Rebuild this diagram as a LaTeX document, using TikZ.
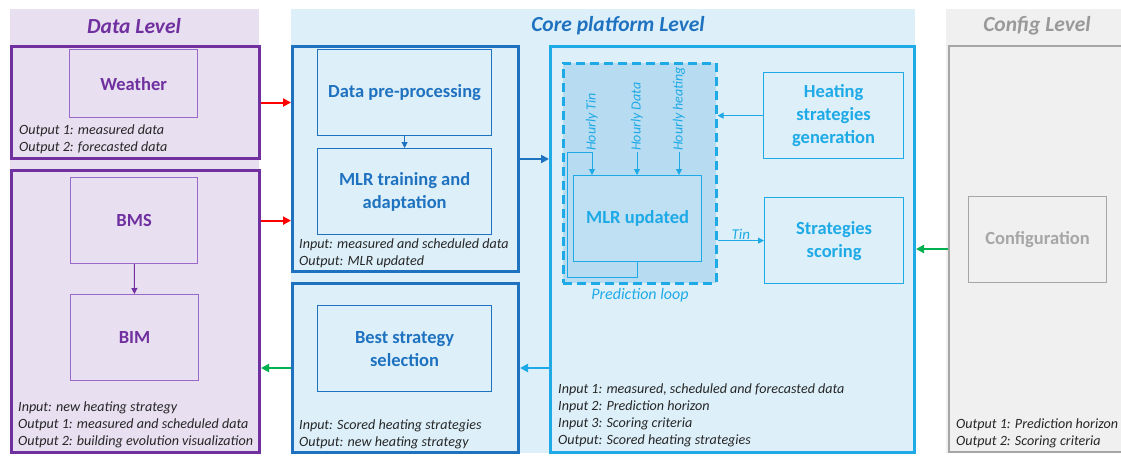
\documentclass[tikz,border=0pt]{standalone}
\usepackage{fontspec}
\setmainfont{Carlito}
\usepackage{tikz}
\usetikzlibrary{positioning,arrows.meta,calc}
\definecolor{cmorado}{HTML}{7030A0}
\definecolor{cmoradoc}{HTML}{9A68C8}
\definecolor{fmorado}{HTML}{E8DFF0}
\definecolor{cazul}{HTML}{1F72C0}
\definecolor{ccielo}{HTML}{1EAAE6}
\definecolor{fazul}{HTML}{DDF0FA}
\definecolor{flazo}{HTML}{B7DBF1}
\definecolor{fmlr}{HTML}{BFE0F3}
\definecolor{cgris}{HTML}{A6A6A6}
\definecolor{ctitgris}{HTML}{999999}
\definecolor{fgris}{HTML}{F0F0F0}
\definecolor{cverde}{HTML}{00B050}
\definecolor{crojo}{HTML}{FF0000}
\definecolor{ctexto}{HTML}{262626}
\tikzset{
  fondo/.style={fill=#1, draw=none},
  marco/.style={draw=#1, line width=3pt, anchor=north west, inner sep=0pt},
  caja/.style={draw=#1, line width=1.2pt, text=#1, anchor=north west, inner sep=0pt,
    align=center, font=\bfseries\fontsize{18.5}{23}\selectfont},
  titulo/.style={font=\bfseries\itshape\fontsize{21.5}{24}\selectfont, text=#1},
  nota/.style={anchor=north west, inner sep=0pt, align=left, text=ctexto,
    font=\itshape\fontsize{14.1}{17}\selectfont},
  etq/.style={inner sep=1pt, text=ccielo, font=\itshape\fontsize{14}{16}\selectfont},
  flecha/.style={-{Triangle[length=8pt, width=8pt]}, line width=2pt, draw=#1},
  flechita/.style={-{Triangle[length=6pt, width=6pt]}, line width=1pt, draw=#1},
}

\begin{document}
\begin{tikzpicture}[x=1pt, y=-1pt]
  \useasboundingbox (0,0) rectangle (1121,456);
  \clip (0,0) rectangle (1121,456);
  % level backgrounds
  \fill[fondo=fmorado] (10,9) rectangle (259,453);
  \fill[fondo=fazul] (291,9) rectangle (915,453);
  \fill[fondo=fgris] (946,9) rectangle (1130,453);
  \node[titulo=cmorado] (tdata) at (134,26) {Data Level};
  \node[titulo=cazul] (tcore) at (618,26) {Core platform Level};
  \node[titulo=ctitgris] (tconf) at (1037,26) {Config Level};

  % data level
  \node[marco=cmorado, minimum width=248, minimum height=112] (fweather) at (10,45) {};
  \node[caja=cmoradoc, text=cmorado, minimum width=128, minimum height=68] (weather) at (69,49) {Weather};
  \node[nota] (nweather) at (19,125) {Output 1: measured data\\Output 2: forecasted data};
  \node[marco=cmorado, minimum width=248, minimum height=282] (fbms) at (10,169) {};
  \node[caja=cmoradoc, text=cmorado, minimum width=127, minimum height=86] (bms) at (70,177) {BMS};
  \node[caja=cmoradoc, text=cmorado, minimum width=128, minimum height=86] (bim) at (70,294) {BIM};
  \node[nota] (nbms) at (18,401) {Input: new heating strategy\\Output 1: measured and scheduled data\\Output 2: building evolution visualization};
  \draw[flechita=cmorado] (bms) -- (bim);

  % core platform level
  \node[marco=cazul, minimum width=226, minimum height=225] (fprep) at (291,45) {};
  \node[caja=cazul, minimum width=174, minimum height=86] (prep) at (317,49) {Data pre-processing};
  \node[caja=cazul, minimum width=174, minimum height=86] (train) at (317,148) {MLR training and\\adaptation};
  \node[nota] (nprep) at (299,239) {Input: measured and scheduled data\\Output: MLR updated};
  \draw[flechita=cazul] (prep) -- (train);
  \node[marco=cazul, minimum width=226, minimum height=169] (fbest) at (291,282) {};
  \node[caja=cazul, minimum width=174, minimum height=86] (best) at (317,305) {Best strategy\\selection};
  \node[nota] (nbest) at (299,419) {Input: Scored heating strategies\\Output: new heating strategy};

  \node[marco=ccielo, minimum width=364, minimum height=406] (fcore) at (549,45) {};
  \node[draw=ccielo, dash pattern=on 9pt off 5pt, line width=2.5pt, fill=flazo,
    anchor=north west, inner sep=0pt, minimum width=153, minimum height=220] (lazo) at (562,62) {};
  \node[caja=ccielo, fill=fmlr, minimum width=128, minimum height=86] (mlr) at (573,175) {MLR updated};
  \node[etq, rotate=90, anchor=west] (htin) at (592,152) {Hourly Tin};
  \node[etq, rotate=90, anchor=west] (hdata) at (637,152) {Hourly Data};
  \node[etq, rotate=90, anchor=west] (hheat) at (679,152) {Hourly heating};
  \coordinate (vuelta) at (567,277);
  \draw[flechita=ccielo] (mlr.south) |- (vuelta) |- (htin.west) -- (htin.west |- mlr.north);
  \draw[flechita=ccielo] (hdata.west) -- (hdata.west |- mlr.north);
  \draw[flechita=ccielo] (hheat.west) -- (hheat.west |- mlr.north);
  \node[etq, font=\itshape\fontsize{16}{18}\selectfont] (plazo) at (640,295) {Prediction loop};
  \node[caja=ccielo, minimum width=140, minimum height=86] (heatgen) at (763,72) {Heating\\strategies\\generation};
  \node[caja=ccielo, minimum width=139, minimum height=86] (scoring) at (764,197) {Strategies\\scoring};
  \draw[flechita=ccielo] (heatgen.west) -- (heatgen.west -| lazo.east);
  \draw[flechita=ccielo] (lazo.east |- scoring) -- node[etq, above, font=\itshape\fontsize{15}{17}\selectfont] (ttin) {Tin} (scoring.west);
  \node[nota] (ncore) at (558,383) {Input 1: measured, scheduled and forecasted data\\Input 2: Prediction horizon\\Input 3: Scoring criteria\\Output: Scored heating strategies};

  % config level
  \node[marco=cgris, line width=2pt, minimum width=190, minimum height=406] (fconf) at (948,45) {};
  \node[caja=cgris, line width=1pt, minimum width=138, minimum height=86] (conf) at (968,196) {Configuration};
  \node[nota] (nconf) at (956,418) {Output 1: Prediction horizon\\Output 2: Scoring criteria};

  % links between levels
  \draw[flecha=crojo] (fweather.east) -- (fweather.east -| fprep.west);
  \draw[flecha=crojo] (bms -| fbms.east) -- (bms -| fprep.west);
  \draw[flecha=cazul] (fprep.east) -- (fprep.east -| fcore.west);
  \draw[flecha=ccielo] (fbest.east -| fcore.west) -- (fbest.east);
  \draw[flecha=cverde] (fbest.west) -- (fbest.west -| fbms.east);
  \draw[flecha=cverde] (fconf.west) -- (fconf.west -| fcore.east);
\end{tikzpicture}
\end{document}
